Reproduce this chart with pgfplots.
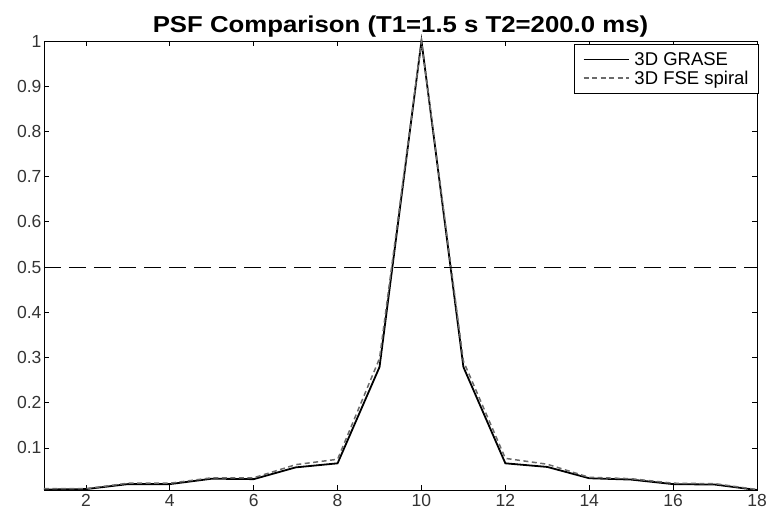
\documentclass[border=0pt]{standalone}
\usepackage{fontspec}
\setmainfont{Liberation Sans}
\newfontfamily\titlefont[FakeStretch=1.12]{Liberation Sans}
\usepackage{pgfplots}
\pgfplotsset{compat=1.18}
\definecolor{fsegray}{HTML}{6A6A6A}

\begin{document}
\begin{tikzpicture}
  \begin{axis}[
    scale only axis,
    width=713pt, height=449pt,
    xmin=1, xmax=18, ymin=0.007, ymax=1,
    xtick={2,4,...,18},
    ytick={0.1,0.2,0.3,0.4,0.5,0.6,0.7,0.8,0.9,1},
    yticklabels={0.1,0.2,0.3,0.4,0.5,0.6,0.7,0.8,0.9,1},
    tick align=inside,
    major tick length=5pt,
    tick style={black, line width=0.8pt},
    axis line style={line width=0.8pt},
    /pgf/number format/assume math mode=true,
    ticklabel style={font=\fontsize{17.5}{20}\selectfont, color=black!80},
    yticklabel style={xshift=1pt},
    xticklabel style={yshift=-1pt},
    title={\textbf{PSF Comparison (T1=1.5 s T2=200.0 ms)}},
    title style={font=\titlefont\fontsize{23}{27}\selectfont, yshift=-6pt},
    legend style={at={(rel axis cs:1,1)}, anchor=north east, xshift=2pt, yshift=-3pt,
      font=\fontsize{18.5}{21}\selectfont, draw=black, line width=0.8pt,
      inner xsep=8pt, inner ysep=6pt, row sep=0pt, column sep=3pt,
      cells={anchor=west}},
    legend image code/.code={\draw[#1, line width=1.6pt] (0cm,0cm) -- (45pt,0cm);},
    clip=false,
  ]
    \addplot[black, line width=1.8pt] coordinates {
      (1,0.008) (2,0.009) (3,0.020) (4,0.020) (5,0.032) (6,0.031)
      (7,0.057) (8,0.066) (9,0.279) (10,1.0) (11,0.279) (12,0.066)
      (13,0.058) (14,0.033) (15,0.030) (16,0.020) (17,0.019) (18,0.007)
    };
    \addlegendentry{3D GRASE}
    \addplot[fsegray, line width=1.5pt, dash pattern=on 5pt off 3.5pt] coordinates {
      (1,0.010) (2,0.010) (3,0.022) (4,0.022) (5,0.034) (6,0.034)
      (7,0.063) (8,0.075) (9,0.298) (10,1.0) (11,0.292) (12,0.077)
      (13,0.064) (14,0.035) (15,0.032) (16,0.022) (17,0.021) (18,0.008)
    };
    \addlegendentry{3D FSE spiral}
    \addplot[black, line width=0.9pt, dash pattern=on 17pt off 8pt, forget plot]
      coordinates {(1,0.5) (18,0.5)};
    \coordinate (ll) at (rel axis cs:0,0);
    \coordinate (ur) at (rel axis cs:1,1);
  \end{axis}
  \path ([shift={(-44pt,-29pt)}]ll) rectangle ([shift={(14pt,41pt)}]ur);
\end{tikzpicture}
\end{document}
